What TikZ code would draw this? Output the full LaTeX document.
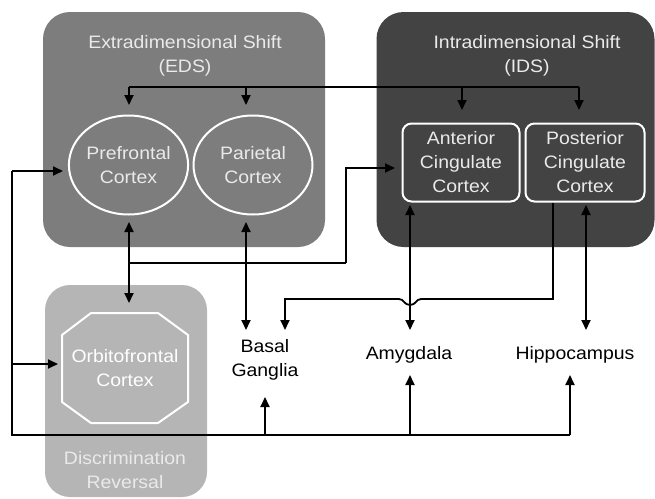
\documentclass[tikz,border=0pt]{standalone}
\usepackage{fontspec}
\setmainfont{Liberation Sans}[FakeStretch=1.08]
\usetikzlibrary{arrows.meta,calc,shapes.geometric}
\definecolor{edsgray}{HTML}{7D7D7D}
\definecolor{idsgray}{HTML}{434343}
\definecolor{ofcgray}{HTML}{B5B5B5}
\definecolor{lighttext}{HTML}{EAEAEA}
\begin{document}
\begin{tikzpicture}[x=1pt,y=-1pt,
  txt/.style={font=\fontsize{18}{24}\selectfont, align=center, inner sep=0pt},
  region/.style={rounded corners=27pt, inner sep=0pt, draw=none},
  inner/.style={draw=white, line width=2pt, inner sep=0pt, text=lighttext},
  line/.style={line width=1.8pt, black},
  arr/.style={line, -{Triangle[length=10pt,width=9pt]}},
  darr/.style={line, {Triangle[length=10pt,width=9pt]}-{Triangle[length=10pt,width=9pt]}}
]
\useasboundingbox (0,0) rectangle (655,498);
% regions
\node[region, fill=edsgray, minimum width=282pt, minimum height=235pt] (eds) at (184,129.5) {};
\node[region, fill=idsgray, minimum width=278pt, minimum height=235pt] (ids) at (515.5,129.5) {};
\node[region, fill=ofcgray, minimum width=162pt, minimum height=212pt, rounded corners=25pt] (dr) at (126,391) {};
% titles
\node[txt, text=lighttext] (edst) at (185,56) {Extradimensional Shift\\(EDS)};
\node[txt, text=lighttext] (idst) at (527,56) {Intradimensional Shift\\(IDS)};
\node[txt, text=lighttext] (drt) at (125,470) {Discrimination\\Reversal};
% inner shapes
\node[inner, ellipse, minimum width=118pt, minimum height=99pt, txt, text=lighttext] (pfc) at (128.5,165) {Prefrontal\\Cortex};
\node[inner, ellipse, minimum width=119pt, minimum height=99pt, txt, text=lighttext] (par) at (253,165) {Parietal\\Cortex};
\node[inner, rounded corners=9pt, minimum width=117pt, minimum height=78pt, txt, text=lighttext] (acc) at (461,162.5) {Anterior\\Cingulate\\Cortex};
\node[inner, rounded corners=9pt, minimum width=119pt, minimum height=78pt, txt, text=lighttext] (pcc) at (585,162.5) {Posterior\\Cingulate\\Cortex};
\draw[white, line width=2pt] (91,313) -- (158,313) -- (188,335) -- (188,402) -- (158,423) -- (91,423) -- (62,402) -- (62,335) -- cycle;
\node[txt, text=white, minimum width=126pt, minimum height=110pt] (ofc) at (125,368) {Orbitofrontal\\Cortex};
% targets
\node[txt] (bg) at (265,360) {Basal\\Ganglia};
\node[txt] (amy) at (409,355) {Amygdala};
\node[txt] (hip) at (575,355) {Hippocampus};
% top bus
\coordinate (tb1) at (129,87);
\coordinate (tb2) at (246,87);
\coordinate (tb3) at (462,87);
\coordinate (tb4) at (579,87);
\draw[line] (tb1) -- (tb4);
\draw[arr] (tb1) -- (129,105);
\draw[arr] (tb2) -- (246,105);
\draw[arr] (tb3) -- (462,110);
\draw[arr] (tb4) -- (579,110);
% left / bottom bus
\coordinate (lb1) at (12,171);
\coordinate (lb2) at (12,364);
\coordinate (lb3) at (12,435);
\coordinate (bb1) at (265,435);
\coordinate (bb2) at (410,435);
\coordinate (bb3) at (570,435);
\draw[line] (lb1) -- (lb3) -- (bb3);
\draw[arr] (lb1) -- (63,171);
\draw[arr] (lb2) -- (58,364);
\draw[arr] (bb1) -- (265,397);
\draw[arr] (bb2) -- (410,375);
\draw[arr] (bb3) -- (570,375);
% pfc <-> ofc, branch to acc
\coordinate (pb) at (129,263);
\coordinate (pa) at (346,263);
\draw[darr] (129,222) -- (129,303);
\draw[line] (pb) -- (pa);
\draw[arr] (pa) -- (346,168) -- (395,168);
% parietal <-> basal ganglia
\draw[darr] (246,222) -- (246,330);
% acc <-> amygdala
\draw[darr] (410,205) -- (410,330);
% pcc <-> hippocampus
\draw[darr] (586,205) -- (586,330);
% pcc -> basal ganglia with bridge
\coordinate (pc1) at (553,203);
\draw[arr] (pc1) -- (553,299) -- (421,299) .. controls (416,299) and (416,305) .. (410,305) .. controls (404,305) and (404,299) .. (399,299) -- (285,299) -- (285,330);
\end{tikzpicture}
\end{document}
